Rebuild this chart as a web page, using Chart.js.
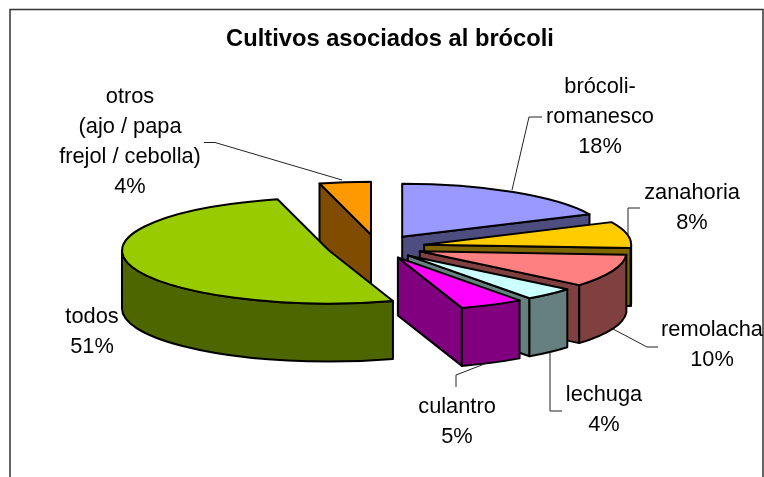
<!DOCTYPE html>
<html>
<head>
<meta charset="utf-8">
<script src="https://cdn.jsdelivr.net/npm/chart.js@4"></script>
<style>html,body{margin:0;padding:0;background:#fff}canvas{display:block}</style>
</head>
<body>
<canvas id="c" width="764" height="477"></canvas>
<script>
const chartTitle = 'Cultivos asociados al brócoli';
const categories = ['brócoli-\nromanesco', 'zanahoria', 'remolacha', 'lechuga', 'culantro', 'todos', 'otros\n(ajo / papa\nfrejol / cebolla)'];
const values = [18, 8, 10, 4, 5, 51, 4];
const topColors = ['#9999FF', '#FFCC00', '#FF8080', '#CCFFFF', '#FF00FF', '#99CC00', '#FF9900'];
const sideColors = ['#4D4D80', '#806600', '#804040', '#668080', '#800080', '#4D6600', '#804D00'];
const explodeOffsets = [47, 48, 46, 45, 46, 50, 48];

// View settings of the tilted pie
const view = { rx: 207, ry: 53, depth: 58, edge: 2 };
// Label anchors: centre x, first baseline
const labelPos = [[600, 93], [692, 199], [712, 336], [604, 401], [457, 413], [92, 323], [130, 103]];
const leaders = [
  [[512, 190], [529, 117], [542, 117]],
  [[628, 235], [628, 208], [640, 208]],
  [[613, 329], [647, 347], [658, 347]],
  [[550, 353], [550, 411], [562, 411]],
  [[487, 363], [456, 375], [456, 387]],
  null,
  [[204, 142.5], [215, 142.5], [342, 180]]
];

const pie3d = {
  id: 'pie3d',
  beforeDatasetDraw(chart, args) {
    const ctx = chart.ctx, arcs = args.meta.data, v = view;
    const y2 = v.ry / v.rx;
    const faces = arcs.map((arc, i) => {
      const p = arc.getProps(['x', 'y', 'startAngle', 'endAngle'], true);
      const mid = (p.startAngle + p.endAngle) / 2, off = arc.options.offset;
      return { i, s: p.startAngle, e: p.endAngle,
        ax: p.x + off * Math.cos(mid), ay: p.y + off * y2 * Math.sin(mid) };
    }).sort((a, b) => a.ay - b.ay);

    ctx.save();
    ctx.lineJoin = 'round';
    ctx.lineWidth = v.edge;
    ctx.strokeStyle = '#000';
    const rimX = (f, t) => f.ax + v.rx * Math.cos(t);
    const rimY = (f, t) => f.ay + v.ry * Math.sin(t);
    const paint = (fill) => { ctx.fillStyle = fill; ctx.fill(); ctx.stroke(); };
    const radialWall = (f, t) => {
      ctx.beginPath();
      ctx.moveTo(f.ax, f.ay);
      ctx.lineTo(rimX(f, t), rimY(f, t));
      ctx.lineTo(rimX(f, t), rimY(f, t) + v.depth);
      ctx.lineTo(f.ax, f.ay + v.depth);
      ctx.closePath();
      paint(sideColors[f.i]);
    };
    faces.forEach(f => {
      if (-Math.cos(f.s) > 1e-6) radialWall(f, f.s);
      if (Math.cos(f.e) > 1e-6) radialWall(f, f.e);
      const a = Math.max(f.s, 0), b = Math.min(f.e, Math.PI);
      if (b > a) {
        ctx.beginPath();
        ctx.ellipse(f.ax, f.ay, v.rx, v.ry, 0, a, b);
        ctx.lineTo(rimX(f, b), rimY(f, b) + v.depth);
        ctx.ellipse(f.ax, f.ay + v.depth, v.rx, v.ry, 0, b, a, true);
        ctx.closePath();
        paint(sideColors[f.i]);
      }
      ctx.beginPath();
      ctx.moveTo(f.ax, f.ay);
      ctx.ellipse(f.ax, f.ay, v.rx, v.ry, 0, f.s, f.e);
      ctx.closePath();
      paint(topColors[f.i]);
    });
    ctx.restore();
    return false;
  },
  afterDraw(chart) {
    const ctx = chart.ctx;
    ctx.save();
    // frame, open at the bottom edge of the picture
    ctx.strokeStyle = '#333';
    ctx.lineWidth = 1.5;
    ctx.beginPath();
    ctx.moveTo(10, 478); ctx.lineTo(10, 9.5); ctx.lineTo(763, 9.5); ctx.lineTo(763, 478);
    ctx.stroke();
    // leader lines
    ctx.strokeStyle = '#222';
    ctx.lineWidth = 1;
    leaders.forEach(l => {
      if (!l) return;
      ctx.beginPath();
      l.forEach((p, k) => k ? ctx.lineTo(p[0], p[1]) : ctx.moveTo(p[0], p[1]));
      ctx.stroke();
    });
    // texts
    ctx.fillStyle = '#000';
    ctx.textAlign = 'center';
    ctx.textBaseline = 'alphabetic';
    ctx.font = 'bold 23.7px "Liberation Sans"';
    ctx.fillText(chartTitle, 390, 46);
    ctx.font = '21.8px "Liberation Sans"';
    categories.forEach((name, i) => {
      const lines = name.split('\n').concat(values[i] + '%');
      lines.forEach((t, k) => ctx.fillText(t, labelPos[i][0], labelPos[i][1] + k * 30));
    });
    ctx.restore();
  }
};

new Chart(document.getElementById('c'), {
  type: 'pie',
  data: {
    labels: categories,
    datasets: [{ data: values, backgroundColor: topColors, borderColor: '#000', borderWidth: 2, offset: explodeOffsets }]
  },
  options: {
    responsive: false,
    animation: false,
    layout: { padding: { left: 0, right: 10, top: 17, bottom: 0 } },
    plugins: { legend: { display: false }, tooltip: { enabled: false } }
  },
  plugins: [pie3d]
});
</script>
</body>
</html>
